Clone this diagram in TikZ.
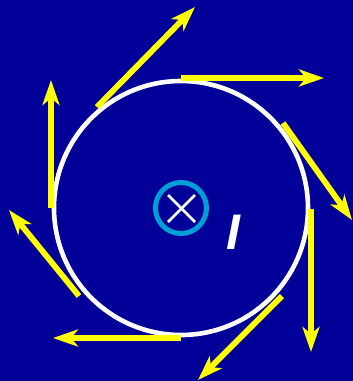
\documentclass[tikz,border=0pt]{standalone}
\usepackage{fontspec}
\setmainfont{Liberation Sans}
\usetikzlibrary{arrows.meta}
\definecolor{bgblue}{RGB}{0,0,153}
\definecolor{fieldyellow}{RGB}{255,255,0}
\definecolor{wirecyan}{RGB}{0,160,215}
\tikzset{
  fieldarrow/.style={draw=fieldyellow, line width=5.8pt, line cap=butt,
    -{Stealth[length=25pt, width=17pt, inset=7pt, fill=fieldyellow]}},
  fieldline/.style={draw=white, line width=4.6pt},
}
\begin{document}
\begin{tikzpicture}[x=1pt,y=-1pt]
\fill[bgblue] (0,0) rectangle (353,381);
\useasboundingbox (0,0) rectangle (353,381);
% field line
\coordinate (c) at (181,208);
\draw[fieldline] (c) circle[radius=127];
% wire into the page
\draw[wirecyan, line width=5pt] (c) circle[radius=25.5];
\coordinate (x1) at (168,195);
\coordinate (x2) at (195,222);
\coordinate (x3) at (168,222);
\coordinate (x4) at (195,195);
\draw[white, line width=2.8pt] (x1) -- (x2);
\draw[white, line width=2.8pt] (x3) -- (x4);
\node[text=white, font=\fontsize{50}{60}\selectfont\bfseries\itshape, inner sep=0pt] (lab) at (233,232) {I};
% tangent arrows
\coordinate (a1s) at (181,78);  \coordinate (a1e) at (324,78);
\coordinate (a2s) at (283,123); \coordinate (a2e) at (352,220);
\coordinate (a3s) at (311,209); \coordinate (a3e) at (311,352);
\coordinate (a4s) at (282,296); \coordinate (a4e) at (198,380);
\coordinate (a5s) at (181,338); \coordinate (a5e) at (53,338);
\coordinate (a6s) at (79,296);  \coordinate (a6e) at (9,210);
\coordinate (a7s) at (51,208);  \coordinate (a7e) at (51,80);
\coordinate (a8s) at (97,107);  \coordinate (a8e) at (195,7);
\foreach \i in {1,...,8} {\draw[fieldarrow] (a\i s) -- (a\i e);}
\end{tikzpicture}
\end{document}
